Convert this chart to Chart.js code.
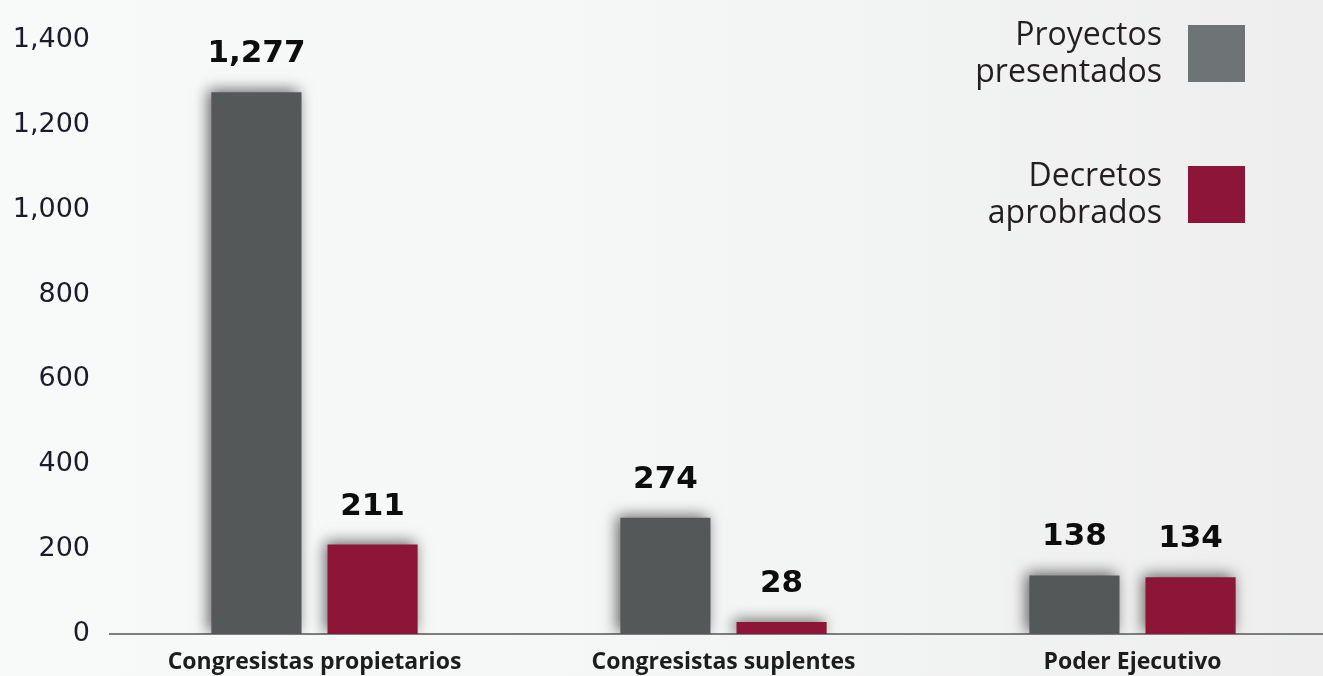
<!DOCTYPE html>
<html lang="es">
<head>
    <meta charset="UTF-8">
    <title>Proyectos y decretos</title>
    <script src="https://cdn.jsdelivr.net/npm/chart.js@4.4.0/dist/chart.umd.min.js"></script>
    <style>
        html, body { margin: 0; padding: 0; overflow: hidden; }
        body {
            width: 1323px; height: 676px;
            background: linear-gradient(90deg, #f8f9f9 0%, #f5f6f6 45%, #eeeeee 100%);
        }
        .chart-wrapper { position: absolute; left: 0; top: 0; width: 1337px; height: 676px; }
    </style>
</head>
<body>
<div class="chart-wrapper">
    <canvas id="chart" width="1337" height="676"></canvas>
</div>
<script>
    const categories = ['Congresistas propietarios', 'Congresistas suplentes', 'Poder Ejecutivo']
    const proyectos = [1277, 274, 138]
    const decretos = [211, 28, 134]
    const legendLines = [['Proyectos', 'presentados'], ['Decretos', 'aprobrados']]
    const yTicks = [0, 200, 400, 600, 800, 1000, 1200, 1400]

    const barColors = ['#545859', '#8c1538']
    const legendColors = ['#6e7376', '#8e153a']

    const fmt = v => v.toLocaleString('en-US')

    // soft shadow behind the bars
    const barShadow = {
        id: 'barShadow',
        beforeDatasetsDraw(chart) {
            const ctx = chart.ctx
            ctx.save()
            ctx.shadowColor = 'rgba(0,0,0,0.6)'
            ctx.shadowBlur = 14
            ctx.shadowOffsetX = -3
            ctx.shadowOffsetY = -2
        },
        afterDatasetsDraw(chart) {
            chart.ctx.restore()
        }
    }

    // value printed above each bar
    const valueLabels = {
        id: 'valueLabels',
        afterDatasetsDraw(chart) {
            const ctx = chart.ctx
            ctx.save()
            ctx.font = 'bold 31px "DejaVu Sans", Verdana, sans-serif'
            ctx.fillStyle = '#0d0d0d'
            ctx.textAlign = 'center'
            ctx.textBaseline = 'middle'
            chart.data.datasets.forEach((ds, i) => {
                chart.getDatasetMeta(i).data.forEach((bar, j) => {
                    ctx.fillText(fmt(ds.data[j]), bar.x, bar.y - 38)
                })
            })
            ctx.restore()
        }
    }

    // legend in the top right corner, text to the left of the box
    const sideLegend = {
        id: 'sideLegend',
        afterDraw(chart) {
            const ctx = chart.ctx
            const boxX = 1188, boxSize = 57
            const tops = [25, 166]
            ctx.save()
            ctx.font = '400 32px "Open Sans"'
            ctx.textAlign = 'right'
            ctx.textBaseline = 'alphabetic'
            legendLines.forEach((lines, i) => {
                ctx.fillStyle = legendColors[i]
                ctx.fillRect(boxX, tops[i], boxSize, boxSize)
                ctx.fillStyle = '#231f20'
                lines.forEach((line, k) => {
                    ctx.fillText(line, 1162, tops[i] + 20 + k * 37)
                })
            })
            ctx.restore()
        }
    }

    new Chart(document.getElementById('chart'), {
        type: 'bar',
        data: {
            labels: categories,
            datasets: [
                {label: legendLines[0].join(' '), data: proyectos, backgroundColor: barColors[0]},
                {label: legendLines[1].join(' '), data: decretos, backgroundColor: barColors[1]}
            ]
        },
        options: {
            responsive: false,
            animation: false,
            layout: {padding: {top: 40, right: 0, left: 0, bottom: 0}},
            categoryPercentage: 0.568,
            barPercentage: 0.776,
            plugins: {legend: {display: false}, tooltip: {enabled: false}},
            scales: {
                x: {
                    grid: {display: false, drawTicks: false},
                    border: {display: true, color: '#7b7d7e', width: 2},
                    ticks: {
                        padding: 15,
                        color: '#1d1d1d',
                        font: {family: '"Open Sans"', weight: 'bold', size: 23}
                    },
                    afterFit(scale) { scale.height = 42 }
                },
                y: {
                    min: 0,
                    max: 1400,
                    grid: {display: false, drawTicks: false},
                    border: {display: false},
                    afterBuildTicks(scale) { scale.ticks = yTicks.map(v => ({value: v})) },
                    ticks: {
                        padding: 20,
                        color: '#1b1b2b',
                        font: {family: '"DejaVu Sans", Verdana, sans-serif', size: 27},
                        callback: v => fmt(v)
                    },
                    afterFit(scale) { scale.width = 110 }
                }
            }
        },
        plugins: [barShadow, valueLabels, sideLegend]
    })
</script>
</body>
</html>
